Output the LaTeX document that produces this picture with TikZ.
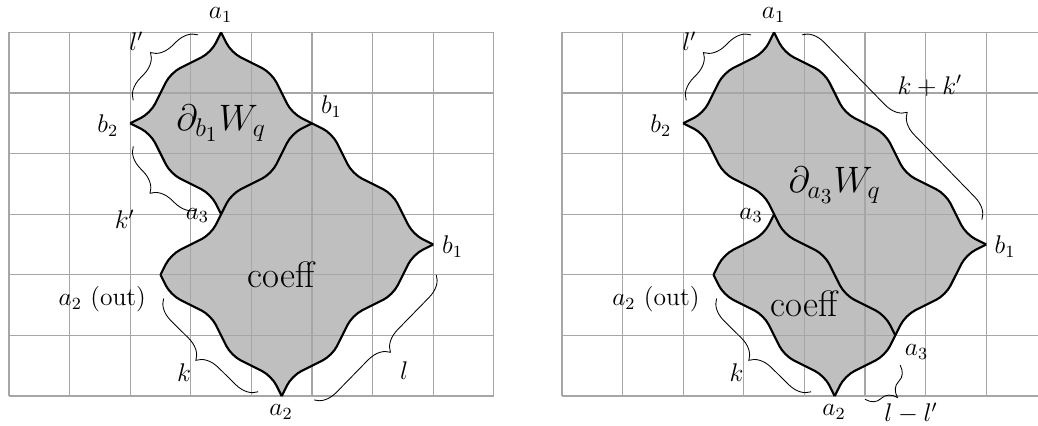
\documentclass[tikz,border=0pt]{standalone}
\usetikzlibrary{decorations.pathreplacing}
\tikzset{
  wavy/.style={rounded corners=5pt},
  outline/.style={wavy, line width=1pt, line join=round},
  grayfill/.style={fill=black!25},
  gridline/.style={draw=gray!70, line width=0.6pt},
  brc/.style={decorate, decoration={brace, amplitude=10pt}, line width=0.4pt},
  lab/.style={font=\large, inner sep=0pt},
  big/.style={font=\LARGE, inner sep=0pt},
}
% wavy diagonal from x=#1 to x=#2 on the line y = #3 + (#4) x, with #5 corners
\newcommand\wave[5]{({#1},{#3+(#4)*(#1)}) \foreach \i [evaluate=\i as \lo using #1+(\i-1)/2] in {1,...,#5} { -- ({\lo+1/3-(\lo-floor(\lo))/3},{#3+(#4)*(\lo+1/3-(\lo-floor(\lo))/3)+(#4)/6*(4*(\lo-floor(\lo))-1)}) } -- ({#2},{#3+(#4)*(#2)})}
\newcommand\halfbelow[2]{\clip[wavy] \wave{1}{8}{#1}{#2}{14} -- (8,-20) -- (1,-20) -- cycle;}
\newcommand\halfabove[2]{\clip[wavy] \wave{1}{8}{#1}{#2}{14} -- (8,20) -- (1,20) -- cycle;}

\begin{document}
\begin{tikzpicture}
\useasboundingbox (-0.1485,-0.4785) rectangle (16.98,6.535);
% ================= left panel =================
\begin{scope}
  \begin{scope}
    \halfbelow{9.5}{-1}\halfabove{6.5}{-1}\halfbelow{2.5}{1}\halfabove{-0.5}{1}
    \fill[grayfill] (0,0) rectangle (8,6);
  \end{scope}
  \begin{scope}
    \halfbelow{9.5}{-1}\halfabove{4.5}{-1}\halfbelow{-0.5}{1}\halfabove{-4.5}{1}
    \fill[grayfill] (0,0) rectangle (8,6);
  \end{scope}
  \draw[gridline] (0,0) grid (8,6);
  \draw[outline] \wave{3.5}{7}{9.5}{-1}{7};
  \draw[outline] \wave{2.5}{5}{-0.5}{1}{5};
  \draw[outline] \wave{2}{3.5}{6.5}{-1}{3};
  \draw[outline] \wave{2}{3.5}{2.5}{1}{3};
  \draw[outline] \wave{4.5}{7}{-4.5}{1}{5};
  \draw[outline] \wave{2.5}{4.5}{4.5}{-1}{4};
  % braces
  \coordinate (Llp1) at (2.05,4.88); \coordinate (Llp2) at (3.12,5.96);
  \coordinate (Lkp1) at (3.10,3.07); \coordinate (Lkp2) at (2.05,4.12);
  \coordinate (Lk1) at (4.11,0.07);  \coordinate (Lk2) at (2.55,1.61);
  \coordinate (Ll1) at (7.05,2.00);  \coordinate (Ll2) at (5.03,-0.07);
  \draw[brc] (Llp1) -- (Llp2);
  \draw[brc] (Lkp1) -- (Lkp2);
  \draw[brc] (Lk1) -- (Lk2);
  \draw[brc] (Ll1) -- (Ll2);
  % labels
  \node[lab] (La1) at (3.49,6.29) {$a_1$};
  \node[lab] (Lb2) at (1.63,4.46) {$b_2$};
  \node[lab] (Lb1u) at (5.32,4.78) {$b_1$};
  \node[lab] (La3) at (3.11,2.98) {$a_3$};
  \node[lab] (Lb1) at (7.32,2.47) {$b_1$};
  \node[lab] (La2o) at (1.54,1.60) {$a_2$ (out)};
  \node[lab] (La2) at (4.49,-0.27) {$a_2$};
  \node[lab] (Llp) at (2.10,5.85) {$l'$};
  \node[lab] (Lkp) at (1.91,2.92) {$k'$};
  \node[lab] (Lk) at (2.89,0.38) {$k$};
  \node[lab] (Ll) at (6.52,0.42) {$l$};
  \node[big] (LW) at (3.50,4.50) {$\partial_{b_1}W_q$};
  \node[big] (Lc) at (4.49,2.00) {coeff};
\end{scope}
% ================= right panel =================
\begin{scope}[xshift=9.125cm]
  \begin{scope}
    \halfbelow{9.5}{-1}\halfabove{6.5}{-1}\halfbelow{2.5}{1}\halfabove{-4.5}{1}
    \fill[grayfill] (0,0) rectangle (8,6);
  \end{scope}
  \begin{scope}
    \halfbelow{6.5}{-1}\halfabove{4.5}{-1}\halfbelow{-0.5}{1}\halfabove{-4.5}{1}
    \fill[grayfill] (0,0) rectangle (8,6);
  \end{scope}
  \draw[gridline] (0,0) grid (8,6);
  \draw[outline] \wave{3.5}{7}{9.5}{-1}{7};
  \draw[outline] \wave{2}{3.5}{2.5}{1}{3};
  \draw[outline] \wave{2}{5.5}{6.5}{-1}{7};
  \draw[outline] \wave{4.5}{7}{-4.5}{1}{5};
  \draw[outline] \wave{2.5}{4.5}{4.5}{-1}{4};
  \draw[outline] \wave{2.5}{3.5}{-0.5}{1}{2};
  % braces
  \coordinate (Rlp1) at (2.05,4.88); \coordinate (Rlp2) at (3.12,5.96);
  \coordinate (Rkk1) at (3.96,5.96); \coordinate (Rkk2) at (6.94,2.90);
  \coordinate (Rk1) at (4.11,0.07);  \coordinate (Rk2) at (2.55,1.61);
  \coordinate (Rll1) at (5.58,0.51); \coordinate (Rll2) at (5.00,-0.055);
  \draw[brc] (Rlp1) -- (Rlp2);
  \draw[brc] (Rkk1) -- (Rkk2);
  \draw[brc] (Rk1) -- (Rk2);
  \draw[brc] (Rll1) -- (Rll2);
  % labels
  \node[lab] (Ra1) at (3.49,6.29) {$a_1$};
  \node[lab] (Rb2) at (1.63,4.46) {$b_2$};
  \node[lab] (Ra3u) at (3.12,2.98) {$a_3$};
  \node[lab] (Rb1) at (7.31,2.47) {$b_1$};
  \node[lab] (Ra2o) at (1.55,1.60) {$a_2$ (out)};
  \node[lab] (Ra2) at (4.49,-0.27) {$a_2$};
  \node[lab] (Ra3l) at (5.85,0.73) {$a_3$};
  \node[lab] (Rlp) at (2.10,5.85) {$l'$};
  \node[lab] (Rkk) at (6.07,5.12) {$k+k'$};
  \node[lab] (Rk) at (2.88,0.38) {$k$};
  \node[lab] (Rll) at (5.76,-0.29) {$l-l'$};
  \node[big] (RW) at (4.50,3.48) {$\partial_{a_3}W_q$};
  \node[big] (Rc) at (4.00,1.52) {coeff};
\end{scope}
\end{tikzpicture}
\end{document}
